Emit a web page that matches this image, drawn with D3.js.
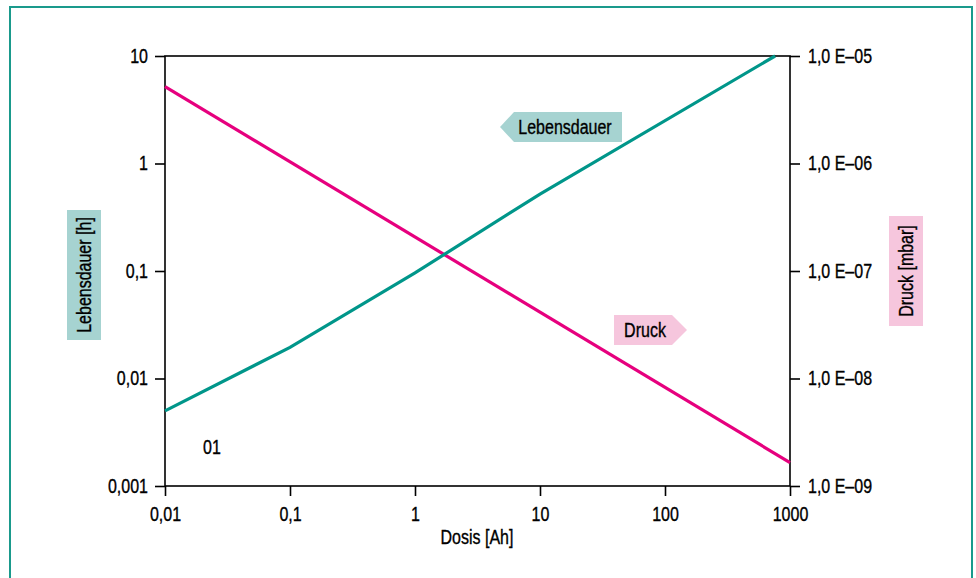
<!DOCTYPE html>
<html>
<head>
<meta charset="utf-8">
<script src="https://cdn.jsdelivr.net/npm/d3@7"></script>
<style>
  body { margin: 0; background: #fff; }
  svg { display: block; font-family: "Liberation Sans", Arial, sans-serif; }
  text { fill: #000; stroke: #000; stroke-width: 0.35px; }
</style>
</head>
<body>
<svg id="chart" width="976" height="578"></svg>
<script>
// data
const xTicks = [0.01, 0.1, 1, 10, 100, 1000];
const xTickLabels = ["0,01", "0,1", "1", "10", "100", "1000"];
const leftTicks = [10, 1, 0.1, 0.01, 0.001];
const leftTickLabels = ["10", "1", "0,1", "0,01", "0,001"];
const rightTicks = [1e-5, 1e-6, 1e-7, 1e-8, 1e-9];
const rightTickLabels = ["1,0 E–05", "1,0 E–06", "1,0 E–07", "1,0 E–08", "1,0 E–09"];

// Lebensdauer [h] vs Dosis [Ah]
const lebensDosis = [0.01, 0.1, 1, 10, 760];
const lebensWerte = [0.005, 0.0195, 0.096, 0.52, 10];
// Druck [mbar] vs Dosis [Ah]
const druckDosis = [0.01, 1000];
const druckWerte = [5.2e-6, 1.65e-9];

const teal = "#00968a";
const pink = "#e6007e";

const svg = d3.select("#chart");

// outer frame
svg.append("rect")
  .attr("x", 10).attr("y", 7)
  .attr("width", 962).attr("height", 620)
  .attr("fill", "none")
  .attr("stroke", "#1a9a8c")
  .attr("stroke-width", 2);

const x = d3.scaleLog().domain([0.01, 1000]).range([165, 790]);
const yL = d3.scaleLog().domain([0.001, 10]).range([486, 56]);
const yR = d3.scaleLog().domain([1e-9, 1e-5]).range([486, 56]);

const styleAxis = (g) => {
  g.select(".domain").remove();
  g.selectAll("line").attr("stroke", "#000").attr("stroke-width", 1.6);
  g.selectAll("text")
    .attr("fill", "#000")
    .attr("font-size", "20px")
    .attr("font-family", "Liberation Sans, Arial, sans-serif");
};

// box lines
svg.append("rect")
  .attr("x", x(0.01)).attr("y", yL(10))
  .attr("width", x(1000) - x(0.01)).attr("height", yL(0.001) - yL(10))
  .attr("fill", "none")
  .attr("stroke", "#000")
  .attr("stroke-width", 1.6);

const xAxis = d3.axisBottom(x)
  .tickValues(xTicks)
  .tickFormat((d, i) => xTickLabels[i])
  .tickSize(10)
  .tickPadding(11);
svg.append("g")
  .attr("transform", `translate(0, ${yL(0.001)})`)
  .call(xAxis)
  .call(styleAxis);

const leftAxis = d3.axisLeft(yL)
  .tickValues(leftTicks)
  .tickFormat((d, i) => leftTickLabels[i])
  .tickSize(10)
  .tickPadding(7);
svg.append("g")
  .attr("transform", `translate(${x(0.01)}, 0)`)
  .call(leftAxis)
  .call(styleAxis);

const rightAxis = d3.axisRight(yR)
  .tickValues(rightTicks)
  .tickFormat((d, i) => rightTickLabels[i])
  .tickSize(10)
  .tickPadding(8);
svg.append("g")
  .attr("transform", `translate(${x(1000)}, 0)`)
  .call(rightAxis)
  .call(styleAxis);

// lines
const lebensLine = d3.line()
  .x((d) => x(d[0]))
  .y((d) => yL(d[1]));
const druckLine = d3.line()
  .x((d) => x(d[0]))
  .y((d) => yR(d[1]));

svg.append("path")
  .datum(druckDosis.map((d, i) => [d, druckWerte[i]]))
  .attr("fill", "none")
  .attr("stroke", pink)
  .attr("stroke-width", 3.2)
  .attr("d", druckLine);

svg.append("path")
  .datum(lebensDosis.map((d, i) => [d, lebensWerte[i]]))
  .attr("fill", "none")
  .attr("stroke", teal)
  .attr("stroke-width", 3.2)
  .attr("d", lebensLine);

// axis titles
svg.append("text")
  .attr("x", 477).attr("y", 544)
  .attr("text-anchor", "middle")
  .attr("font-size", "20px")
  .text("Dosis [Ah]");

svg.append("rect")
  .attr("x", 67).attr("y", 210)
  .attr("width", 34).attr("height", 130)
  .attr("fill", "#a6d3d1");
svg.append("text")
  .attr("transform", "translate(91, 275) rotate(-90)")
  .attr("text-anchor", "middle")
  .attr("font-size", "20px")
  .text("Lebensdauer [h]");

svg.append("rect")
  .attr("x", 889).attr("y", 216)
  .attr("width", 34).attr("height", 110)
  .attr("fill", "#f6c6dd");
svg.append("text")
  .attr("transform", "translate(913, 271) rotate(-90)")
  .attr("text-anchor", "middle")
  .attr("font-size", "20px")
  .text("Druck [mbar]");

// series tags
svg.append("path")
  .attr("d", "M500,127 L514,112 L622,112 L622,142 L514,142 Z")
  .attr("fill", "#a6d3d1");
svg.append("text")
  .attr("x", 565).attr("y", 134)
  .attr("text-anchor", "middle")
  .attr("font-size", "20px")
  .text("Lebensdauer");

svg.append("path")
  .attr("d", "M614,315 L672,315 L687,330 L672,345 L614,345 Z")
  .attr("fill", "#f6c6dd");
svg.append("text")
  .attr("x", 645).attr("y", 337)
  .attr("text-anchor", "middle")
  .attr("font-size", "20px")
  .text("Druck");

svg.append("text")
  .attr("x", 203).attr("y", 454)
  .attr("font-size", "20px")
  .text("01");

// condensed look: squeeze every label horizontally
svg.selectAll("text").each(function () {
  const len = this.getComputedTextLength();
  d3.select(this)
    .attr("textLength", len * 0.8)
    .attr("lengthAdjust", "spacingAndGlyphs");
});
</script>
</body>
</html>
